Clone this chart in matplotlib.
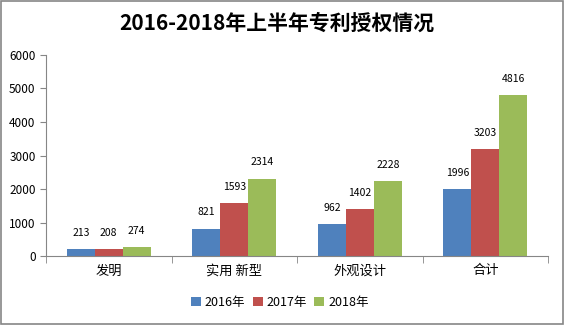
import numpy as np
import matplotlib
matplotlib.use('Agg')
import matplotlib.pyplot as plt
from matplotlib.patches import Rectangle

plt.rcParams['font.family'] = ['Noto Sans CJK SC', 'DejaVu Sans']

# 数据
categories = ['发明', '实用 新型', '外观设计', '合计']
series = ['2016年', '2017年', '2018年']
v2016 = [213, 821, 962, 1996]
v2017 = [208, 1593, 1402, 3203]
v2018 = [274, 2314, 2228, 4816]
colors = ['#4F81BD', '#C0504D', '#9BBB59']

fig = plt.figure(figsize=(5.65, 3.25), dpi=100)
ax = fig.add_axes([0.0814, 0.212, 0.889, 0.619])

x = np.arange(len(categories))
w = 0.223
for i, (vals, name) in enumerate(zip([v2016, v2017, v2018], series)):
    bars = ax.bar(x + (i - 1) * w, vals, width=w, color=colors[i], label=name)
    for b, v in zip(bars, vals):
        ax.annotate(str(v), (b.get_x() + b.get_width() / 2, v),
                    xytext=(0, 8), textcoords='offset points',
                    ha='center', va='bottom', fontsize=7.5)

ax.set_xlim(-0.5, len(categories) - 0.5)
ax.set_ylim(0, 6000)
ax.set_yticks(range(0, 6001, 1000))
ax.set_xticks(x)
ax.set_xticklabels(categories, fontsize=9.5)
ax.set_xticks(np.arange(-0.5, len(categories), 1), minor=True)
ax.tick_params(axis='x', which='major', length=0, pad=6)
ax.tick_params(axis='x', which='minor', length=5, color='#868686')
ax.tick_params(axis='y', length=4, color='#868686', labelsize=8.5)
for s in ['top', 'right']:
    ax.spines[s].set_visible(False)
for s in ['left', 'bottom']:
    ax.spines[s].set_color('#868686')

fig.text(0.49, 0.93, '2016-2018年上半年专利授权情况', ha='center', va='center',
         fontsize=15, fontweight='bold')

fig.legend(loc='center', bbox_to_anchor=(0.495, 0.07), ncol=3, frameon=False,
           fontsize=9, handlelength=0.8, handleheight=0.8, handletextpad=0.3,
           columnspacing=0.6)

fig.patches.append(Rectangle((0.002, 0.003), 0.995, 0.994, transform=fig.transFigure,
                             fill=False, edgecolor='#868686', linewidth=1.2))

fig.savefig('out.png', dpi=100)
